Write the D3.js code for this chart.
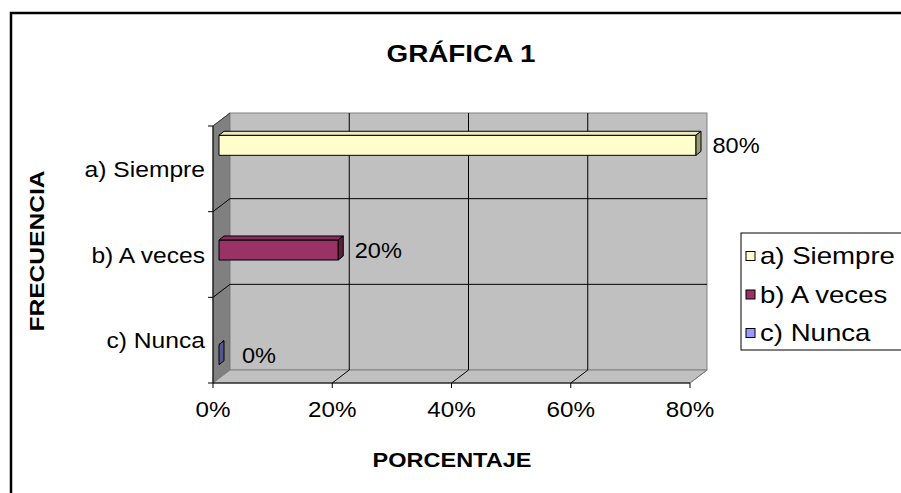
<!DOCTYPE html>
<html><head><meta charset="utf-8">
<script src="https://cdn.jsdelivr.net/npm/d3@7"></script>
<style>
body{margin:0;background:#fff;}
svg{display:block;font-family:"Liberation Sans",Arial,sans-serif;}
</style>
</head><body>
<svg id="c" width="901" height="493"></svg>
<script>
// ---- data ----
const chartTitle = "GRÁFICA 1";
const xTitle = "PORCENTAJE";
const yTitle = "FRECUENCIA";
const categories = ["a) Siempre", "b) A veces", "c) Nunca"];
const seriesNames = ["a) Siempre", "b) A veces", "c) Nunca"];
const siempre = [0.80, null, null];
const aVeces  = [null, 0.20, null];
const nunca   = [null, null, 0.00];
const xTicks = [0, 0.2, 0.4, 0.6, 0.8];
const xTickLabels = ["0%", "20%", "40%", "60%", "80%"];
const valueLabel = v => Math.round(v * 100) + "%";

// ---- styles ----
const frontColors = ["#FFFFCC", "#993366", "#9999FF"];
const topColors   = ["#EDEDBE", "#8A2E5C", "#8A8AE6"];
const sideColors  = ["#999977", "#5C1F3D", "#55558F"];
const SX = 1.1; // horizontal text stretch

const series = [siempre, aVeces, nunca];
const svg = d3.select("#c");

// outer frame
svg.append("rect").attr("x", 11).attr("y", 13).attr("width", 1000).attr("height", 1000)
  .attr("fill", "#fff").attr("stroke", "#000").attr("stroke-width", 2.5);

// scales
const x = d3.scaleLinear().domain([0, 0.8]).range([213, 690]);
const y = d3.scaleBand().domain(categories).range([126, 383]);
const ys = d3.scaleBand().domain(seriesNames).range([0, y.bandwidth()]).paddingInner(0).paddingOuter(0.75);
const DX = 17, DY = -13;     // depth of the 3D box
const BX0 = 6, BY0 = -5;     // bar front plane offset
const BDX = 5, BDY = -4;     // bar depth

const yTop = y.range()[0], yBot = y.range()[1];
const xL = x.range()[0], xR = x.range()[1];

function txt(g, str, tx, ty, o = {}) {
  return g.append("text")
    .attr("transform", `translate(${tx},${ty})` + (o.rot ? ` rotate(${o.rot})` : "") + ` scale(${o.sx || SX},1)`)
    .attr("text-anchor", o.anchor || "start")
    .attr("font-size", o.size || 22)
    .attr("font-weight", o.bold ? "bold" : "normal")
    .attr("fill", "#000")
    .text(str);
}

const walls = svg.append("g");
walls.append("polygon")
  .attr("points", [[xL, yTop], [xL + DX, yTop + DY], [xL + DX, yBot + DY], [xL, yBot]].join(" "))
  .attr("fill", "#808080").attr("stroke", "#606060").attr("stroke-width", 1);
walls.append("rect").attr("x", xL + DX).attr("y", yTop + DY)
  .attr("width", xR - xL).attr("height", yBot - yTop)
  .attr("fill", "#C0C0C0").attr("stroke", "#808080").attr("stroke-width", 1);
walls.append("polygon")
  .attr("points", [[xL, yBot], [xR, yBot], [xR + DX, yBot + DY], [xL + DX, yBot + DY]].join(" "))
  .attr("fill", "#C0C0C0").attr("stroke", "#808080").attr("stroke-width", 1);

// gridlines
const grid = svg.append("g").attr("stroke", "#000").attr("stroke-width", 1).attr("fill", "none");
const catBounds = categories.slice(1).map(c => y(c));
catBounds.forEach(b => {
  grid.append("path").attr("d", `M${xL},${b}L${xL + DX},${b + DY}H${xR + DX}`);
});
xTicks.slice(1, -1).forEach(t => {
  grid.append("path").attr("d", `M${x(t)},${yBot}L${x(t) + DX},${yBot + DY}V${yTop + DY}`);
});
grid.append("path").attr("d", `M${xL},${yTop}L${xL + DX},${yTop + DY}`).attr("stroke", "#404040");

// axes
const ax = svg.append("g").attr("stroke", "#000").attr("stroke-width", 1).attr("fill", "none");
ax.append("path").attr("d", `M${xL},${yTop}V${yBot}H${xR}`);
[yTop, ...catBounds, yBot].forEach(b => ax.append("path").attr("d", `M${xL - 5},${b}H${xL}`));
xTicks.forEach(t => ax.append("path").attr("d", `M${x(t)},${yBot}V${yBot + 5}`));
ax.append("path").attr("d", `M${xR},${yBot}L${xR + DX},${yBot + DY}`).attr("stroke", "#808080");

// tick labels
const labels = svg.append("g");
xTicks.forEach((t, i) => txt(labels, xTickLabels[i], x(t), 417, { anchor: "middle" }));
categories.forEach(c => txt(labels, c, xL - 8, y(c) + y.bandwidth() / 2 + 8, { anchor: "end", sx: 1.12 }));

// bars
const bars = svg.append("g").attr("stroke", "#000").attr("stroke-width", 1).attr("stroke-linejoin", "round");
series.forEach((vals, j) => {
  vals.forEach((v, i) => {
    if (v === null) return;
    const y0 = y(categories[i]) + ys(seriesNames[j]) + BY0;
    const h = ys.bandwidth() + 1;
    const x0 = x(0) + BX0, x1 = x(v) + BX0;
    bars.append("rect").attr("x", x0).attr("y", y0).attr("width", x1 - x0).attr("height", h)
      .attr("fill", frontColors[j]);
    bars.append("polygon")
      .attr("points", [[x0, y0], [x0 + BDX, y0 + BDY], [x1 + BDX, y0 + BDY], [x1, y0]].join(" "))
      .attr("fill", topColors[j]);
    bars.append("polygon")
      .attr("points", [[x1, y0], [x1 + BDX, y0 + BDY], [x1 + BDX, y0 + h + BDY], [x1, y0 + h]].join(" "))
      .attr("fill", sideColors[j]);
    txt(labels, valueLabel(v), x1 + 40, y0 + h / 2 + 8, { anchor: "middle", sx: 1.07 });
  });
});

// titles
txt(svg, chartTitle, 461, 62, { anchor: "middle", bold: true, size: 24, sx: 1.16 });
txt(svg, xTitle, 452, 467, { anchor: "middle", bold: true, size: 21, sx: 1.12 });
txt(svg, yTitle, 44, 251, { anchor: "middle", bold: true, rot: -90, size: 21, sx: 1.17 });

// legend
const lg = svg.append("g");
lg.append("rect").attr("x", 741).attr("y", 233).attr("width", 200).attr("height", 117)
  .attr("fill", "#fff").attr("stroke", "#000").attr("stroke-width", 1);
seriesNames.forEach((s, j) => {
  const cy = 256 + j * 38.5;
  lg.append("rect").attr("x", 746).attr("y", cy - 4.5).attr("width", 9).attr("height", 9)
    .attr("fill", frontColors[j]).attr("stroke", "#000").attr("stroke-width", 1);
  txt(lg, s, 760, cy + 8, { size: 23, sx: 1.2 });
});
</script>
</body></html>
